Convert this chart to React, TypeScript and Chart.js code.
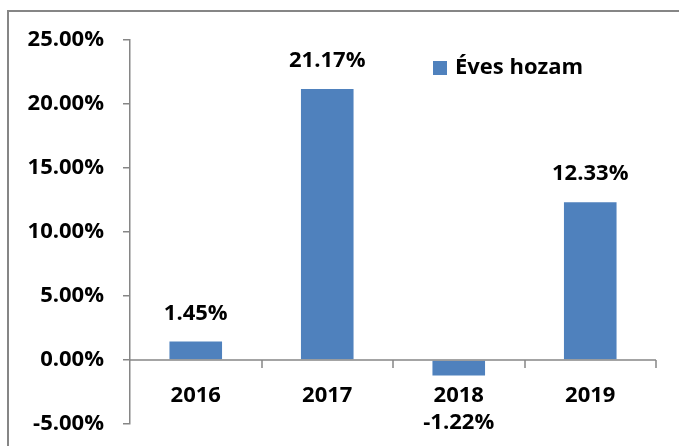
import React, { useEffect, useRef } from "react";
import { Chart, registerables } from "chart.js";

Chart.register(...registerables);

const categories = ["2016", "2017", "2018", "2019"];
const seriesName = "Éves hozam";
const values = [1.45, 21.17, -1.22, 12.33];
const yMin = -5;
const yMax = 25;
const yStep = 5;

const BAR_COLOR = "#4F81BD";
const AXIS_COLOR = "#868686";
const FONT_FAMILY = "'Open Sans', Lato, sans-serif";
const FONT_SIZE = 22;

const fmt = (v: number) => v.toFixed(2) + "%";

const decorPlugin = {
  id: "decor",
  beforeDraw(chart: any) {
    const ctx = chart.ctx;
    ctx.save();
    ctx.strokeStyle = AXIS_COLOR;
    ctx.lineWidth = 2;
    ctx.beginPath();
    ctx.moveTo(8, chart.height + 2);
    ctx.lineTo(8, 11);
    ctx.lineTo(chart.width + 2, 11);
    ctx.stroke();
    ctx.restore();
  },
  afterDatasetsDraw(chart: any) {
    const ctx = chart.ctx;
    const xs = chart.scales.x;
    const ys = chart.scales.y;
    const area = chart.chartArea;
    const y0 = ys.getPixelForValue(0);
    const n = categories.length;
    const cw = (area.right - area.left) / n;
    ctx.save();
    ctx.strokeStyle = AXIS_COLOR;
    ctx.lineWidth = 1.5;
    ctx.beginPath();
    ctx.moveTo(area.left, y0);
    ctx.lineTo(area.right, y0);
    for (let i = 1; i <= n; i++) {
      const bx = Math.round(area.left + i * cw);
      ctx.moveTo(bx, y0);
      ctx.lineTo(bx, y0 + 8);
    }
    ctx.stroke();
    ctx.fillStyle = "#000";
    ctx.font = `bold ${FONT_SIZE}px ${FONT_FAMILY}`;
    ctx.textAlign = "center";
    ctx.textBaseline = "middle";
    categories.forEach((c, i) => {
      ctx.fillText(c, xs.getPixelForValue(i), y0 + 36);
    });
    const meta = chart.getDatasetMeta(0);
    meta.data.forEach((bar: any, i: number) => {
      const v = values[i];
      const ly = v >= 0 ? bar.y - 28 : y0 + 63;
      ctx.fillText(fmt(v), bar.x, ly);
    });
    ctx.fillStyle = BAR_COLOR;
    ctx.fillRect(433, 61, 14, 14);
    ctx.fillStyle = "#000";
    ctx.textAlign = "left";
    ctx.fillText(seriesName, 455, 68);
    ctx.restore();
  },
};

export default function App() {
  const ref = useRef<HTMLCanvasElement>(null);
  useEffect(() => {
    if (!ref.current) return;
    const chart = new Chart(ref.current, {
      type: "bar",
      data: {
        labels: categories,
        datasets: [
          {
            label: seriesName,
            data: values,
            backgroundColor: BAR_COLOR,
            barPercentage: 0.4,
            categoryPercentage: 1,
          },
        ],
      },
      options: {
        animation: false,
        responsive: false,
        devicePixelRatio: 1,
        layout: { padding: { left: 0, right: 23, top: 40, bottom: 22 } },
        plugins: { legend: { display: false }, tooltip: { enabled: false } },
        scales: {
          x: { display: false },
          y: {
            min: yMin,
            max: yMax,
            ticks: {
              stepSize: yStep,
              callback: (v: any) => fmt(Number(v)),
              color: "#000",
              font: { family: FONT_FAMILY, size: FONT_SIZE, weight: "bold" },
              padding: 19,
            },
            grid: { drawOnChartArea: false, drawTicks: true, tickLength: 7, color: AXIS_COLOR, lineWidth: 1.5 },
            border: { display: true, color: AXIS_COLOR, width: 1.5 },
            afterFit: (s: any) => {
              s.width = 130;
              s.paddingTop = 0;
              s.paddingBottom = 0;
            },
          },
        },
      },
      plugins: [decorPlugin],
    });
    return () => chart.destroy();
  }, []);
  return (
    <div style={{ position: "fixed", left: 0, top: 0, width: 679, height: 446, background: "#fff" }}>
      <canvas ref={ref} width={679} height={446} style={{ display: "block" }} />
    </div>
  );
}
